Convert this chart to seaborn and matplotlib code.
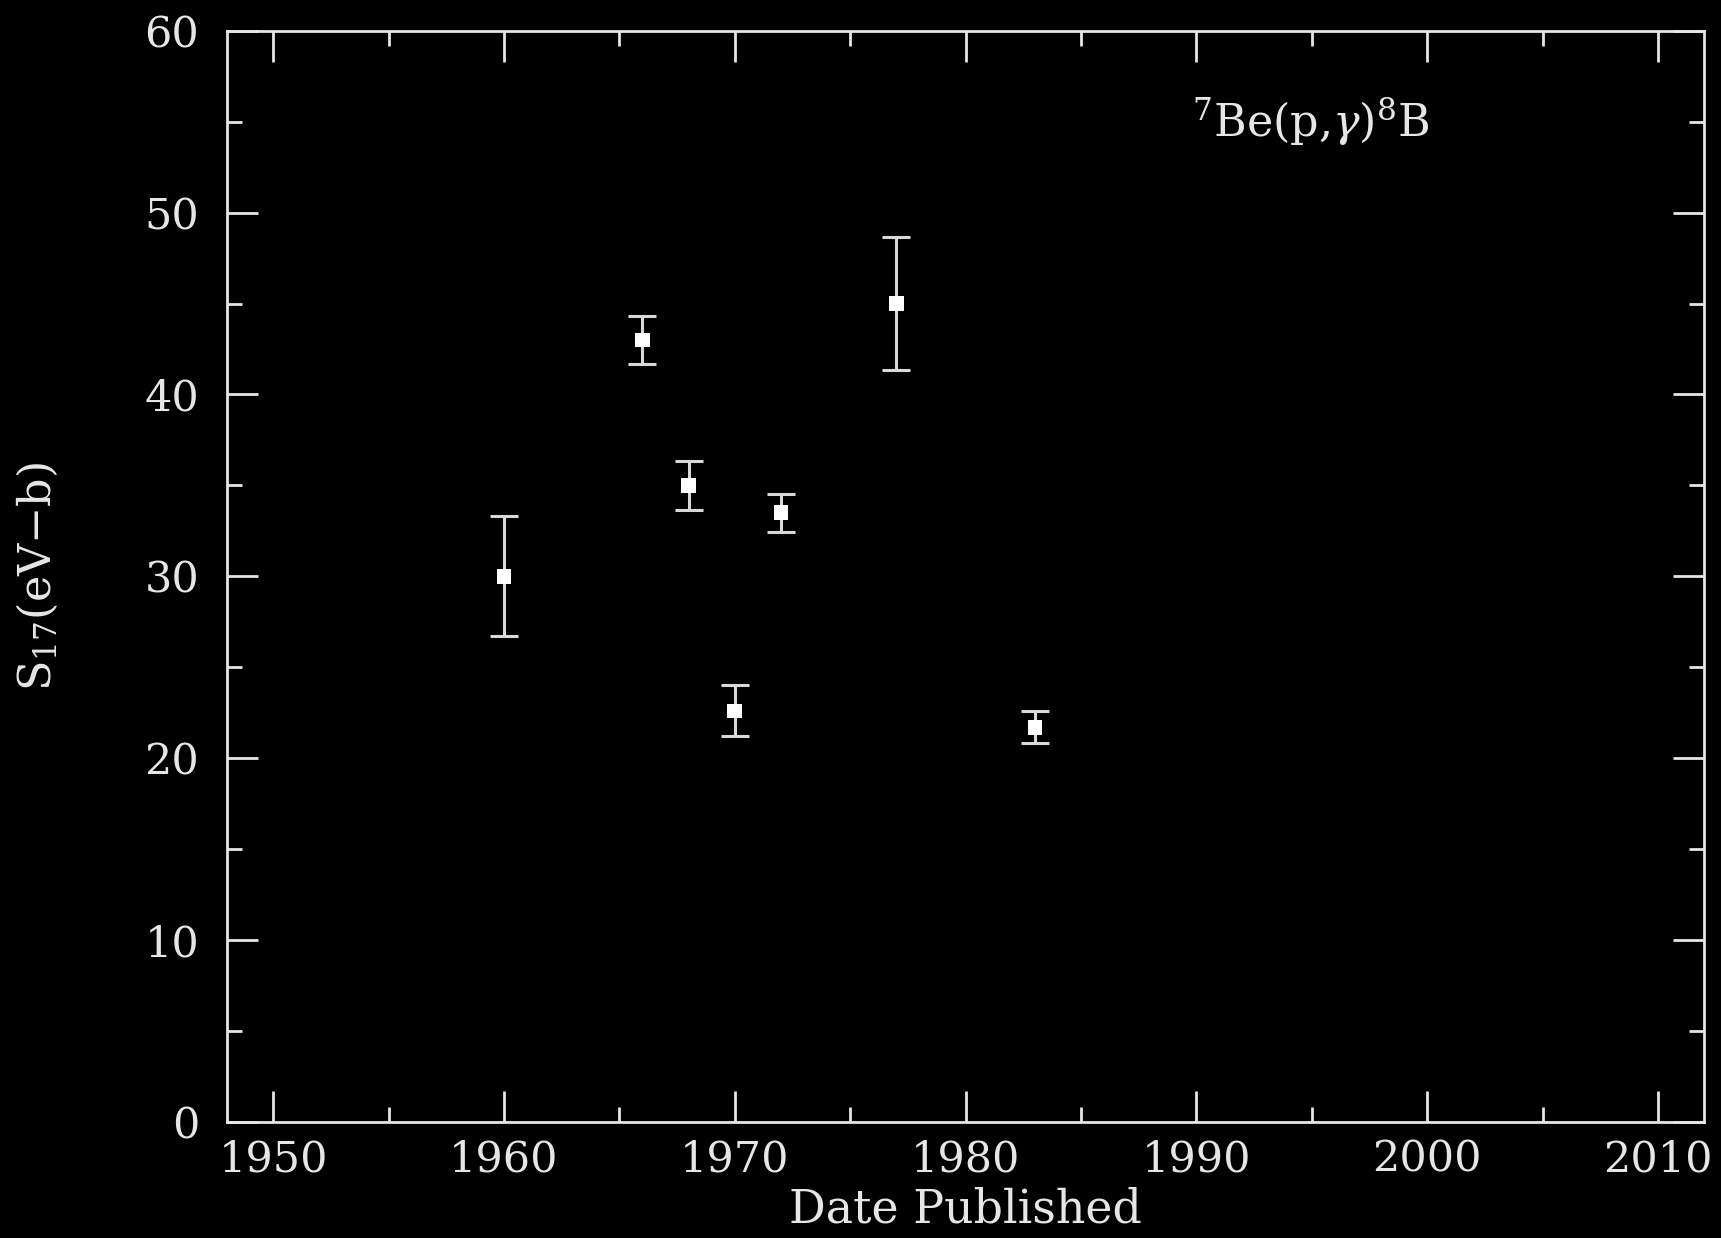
import matplotlib
matplotlib.use("Agg")
import matplotlib.pyplot as plt
import seaborn as sns
import pandas as pd
from matplotlib.ticker import MultipleLocator

# Data
years = [1960, 1966, 1968, 1970, 1972, 1977, 1983]
s17 = [30.0, 43.0, 35.0, 22.6, 33.5, 45.0, 21.7]
err = [3.3, 1.3, 1.35, 1.4, 1.05, 3.65, 0.87]

x_ticks = [1950, 1960, 1970, 1980, 1990, 2000, 2010]
y_ticks = [0, 10, 20, 30, 40, 50, 60]

df = pd.DataFrame({"year": years, "s17": s17, "err": err})

sns.set_theme(style="ticks")
plt.rcParams["font.family"] = ["DejaVu Serif"]
plt.rcParams["mathtext.fontset"] = "dejavuserif"

fg = "#e6e6e6"
fig = plt.figure(figsize=(17.21, 12.38), dpi=100, facecolor="black")
ax = fig.add_axes([0.1319, 0.0937, 0.8583, 0.8815], facecolor="black")

ax.errorbar(df["year"], df["s17"], yerr=df["err"], fmt="none",
            ecolor="#d8d8d8", elinewidth=2.2, capsize=10, capthick=2.2, zorder=2)
sns.scatterplot(data=df, x="year", y="s17", ax=ax, marker="s", s=110,
                color="white", edgecolor="none", linewidth=0, zorder=3, legend=False)

ax.set_xlim(1948, 2012)
ax.set_ylim(0, 60)
ax.set_xticks(x_ticks)
ax.set_yticks(y_ticks)
ax.xaxis.set_minor_locator(MultipleLocator(5))
ax.yaxis.set_minor_locator(MultipleLocator(5))

for sp in ax.spines.values():
    sp.set_color(fg)
    sp.set_linewidth(2)

ax.tick_params(which="both", direction="in", top=True, right=True,
               color=fg, labelcolor=fg, width=2)
ax.tick_params(which="major", length=22, labelsize=31)
ax.tick_params(axis="x", which="major", pad=12)
ax.tick_params(axis="y", which="major", pad=20)
ax.tick_params(which="minor", length=11)

ax.set_xlabel("Date Published", color=fg, fontsize=33)
ax.xaxis.set_label_coords(0.5, -0.06)
ax.xaxis.label.set_va("top")
ax.set_ylabel(r"S$_{17}$(eV$-$b)", color=fg, fontsize=32)
ax.yaxis.set_label_coords(-0.113, 0.5)

ax.text(1989.8, 55, r"$^{7}$Be(p,$\gamma$)$^{8}$B", color=fg, fontsize=32,
        ha="left", va="center")

fig.savefig("out.png", dpi=100, facecolor="black")
